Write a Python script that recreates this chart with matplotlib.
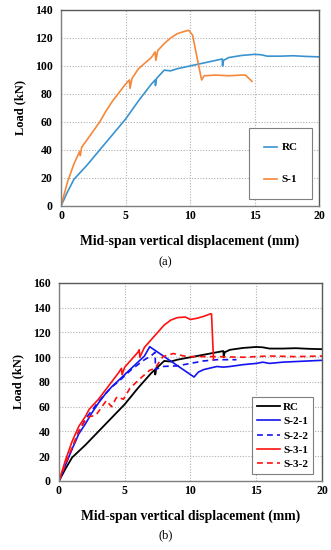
import matplotlib
matplotlib.use("Agg")
import matplotlib.pyplot as plt

plt.rcParams["font.family"] = ["Liberation Serif", "DejaVu Serif"]
plt.rcParams["font.weight"] = "bold"

# (a) RC vs S-1
rc_x = [0, 0.5, 1.0, 1.5, 2.0, 3.0, 4.0, 5.0, 6.0, 7.0, 7.3, 7.32, 7.4, 8.0, 8.5, 9.0,
        10.0, 11.0, 12.0, 12.5, 12.52, 12.6, 13.0, 14.0, 15.0, 15.5, 16.0, 17.0, 18.0, 19.0, 20.0]
rc_y = [0, 10, 19, 24, 29, 40, 51, 62, 75, 87, 90, 86, 91, 97, 96.5, 98,
        100, 102, 104, 105, 100, 104, 106, 107.5, 108.3, 108, 107, 107, 107.3, 106.8, 106.5]

s1_x = [0, 0.5, 1.0, 1.45, 1.5, 1.6, 2.0, 3.0, 3.5, 4.0, 5.0, 5.3, 5.35, 5.5, 6.0, 7.0, 7.3,
        7.35, 7.5, 8.0, 8.5, 9.0, 9.5, 9.9, 10.2, 10.5, 10.9, 11.1, 12.0, 13.0, 14.0, 14.3, 14.8]
s1_y = [0, 17, 30, 39, 36, 42, 47, 60, 68, 75, 87, 90, 84, 91, 98, 106, 110,
        104, 111, 116, 120, 123, 124.5, 125.5, 122, 108, 90, 93, 93.5, 93, 93.5, 93.5, 89]

# (b) RC, S-2-1, S-2-2, S-3-1, S-3-2
s21_x = [0, 0.5, 1.0, 1.3, 1.5, 2.0, 2.5, 3.0, 3.5, 4.0, 4.5, 5.0, 5.5, 6.0, 6.5, 6.9,
         10.27, 10.6, 11.0, 12.0, 12.5, 13.0, 14.0, 15.0, 15.5, 16.0, 17.0, 18.0, 19.0, 20.0]
s21_y = [0, 13, 26, 33, 38, 46, 55, 63, 70, 76, 81, 86, 91, 96, 101, 108.5,
         84, 88, 90, 92.5, 92, 92.5, 94, 95, 96, 95, 96, 96.5, 97, 97.5]

s22_x = [0, 0.5, 1.0, 1.5, 2.0, 2.5, 3.0, 3.5, 4.0, 4.5, 5.0, 5.5, 6.0, 6.5, 7.0, 7.3,
         7.35, 7.8, 9.0, 10.0, 11.0, 12.0, 13.5]
s22_y = [0, 14, 26, 40, 50, 57, 64, 70, 76, 80, 85, 90, 94, 98, 101, 104,
         90, 92.5, 93, 95, 97, 98, 98]

s31_x = [0, 0.5, 1.0, 1.5, 2.0, 2.3, 3.0, 3.5, 4.0, 4.5, 4.75, 4.8, 5.0, 5.5, 6.0, 6.1,
         6.15, 6.5, 7.0, 7.5, 8.0, 8.5, 9.0, 9.6, 10.0, 10.5, 11.0, 11.5, 11.6, 11.75]
s31_y = [0, 17, 32, 44, 52, 58, 66, 73, 80, 87, 91, 86, 92, 98, 104, 106,
         100, 108, 114, 120, 126, 130, 132, 132.5, 130.5, 131.5, 133, 135, 135, 98]

s32_x = [0, 0.5, 1.0, 1.5, 2.0, 2.3, 2.8, 3.6, 4.0, 4.4, 4.9, 5.4, 6.2, 6.9, 7.3, 7.9,
         8.7, 9.5, 10.0, 12.0, 14.0, 16.0, 18.0, 20.0]
s32_y = [0, 14, 27, 40, 49, 52, 53, 65, 60, 68, 66, 75, 83, 89.5, 91, 100.5,
         103, 101, 100.5, 100.5, 100, 101, 100.5, 101]


def style(ax, ymax):
    ax.set_xlim(0, 20)
    ax.set_ylim(0, ymax)
    ax.set_xticks([0, 5, 10, 15, 20])
    ax.set_yticks(range(0, ymax + 1, 20))
    ax.grid(True, color="#b0b0b0", linestyle=(0, (1, 1.5)), linewidth=0.8)
    ax.tick_params(length=0, labelsize=8.5)
    ax.tick_params(axis="x", pad=3)
    ax.tick_params(axis="y", pad=6)
    for lab in ax.get_xticklabels() + ax.get_yticklabels():
        lab.set_fontweight("bold")
    for sp in ax.spines.values():
        sp.set_color("#7f7f7f")
        sp.set_linewidth(1.0)
    ax.spines["top"].set_color("#595959")
    ax.spines["right"].set_color("#595959")
    ax.set_xlabel("Mid-span vertical displacement (mm)", fontsize=9.8, fontweight="bold", labelpad=9)
    ax.set_ylabel("Load (kN)", fontsize=9, fontweight="bold", labelpad=6)


fig = plt.figure(figsize=(3.31, 5.5), dpi=100)

ax1 = fig.add_axes([0.1843, 0.6255, 0.7795, 0.3564])
ax1.plot(rc_x, rc_y, color="#3a93d0", lw=1.2, label="RC")
ax1.plot(s1_x, s1_y, color="#f5883a", lw=1.2, label="S-1")
style(ax1, 140)
leg1 = ax1.legend(loc="lower right", bbox_to_anchor=(0.973, 0.036), handlelength=1.2,
                  handletextpad=0.4, labelspacing=2.0, borderpad=1.3, fancybox=False,
                  edgecolor="#7f7f7f", framealpha=1, borderaxespad=0,
                  prop={"weight": "bold", "size": 8})
leg1.get_frame().set_linewidth(0.8)
fig.text(0.5, 1 - 262 / 550, "(a)", ha="center", va="center", fontsize=9, fontweight="normal")

ax2 = fig.add_axes([0.1782, 0.1255, 0.7946, 0.36])
ax2.plot(rc_x, rc_y, color="black", lw=1.3, label="RC")
ax2.plot(s21_x, s21_y, color="#1414f0", lw=1.2, label="S-2-1")
ax2.plot(s22_x, s22_y, color="#1414f0", lw=1.2, ls=(0, (3.5, 2.5)), label="S-2-2")
ax2.plot(s31_x, s31_y, color="#ff1010", lw=1.2, label="S-3-1")
ax2.plot(s32_x, s32_y, color="#ff1010", lw=1.2, ls=(0, (3.5, 2.5)), label="S-3-2")
style(ax2, 160)
leg2 = ax2.legend(loc="lower right", bbox_to_anchor=(0.966, 0.035), handlelength=2.0,
                  handletextpad=0.3, labelspacing=0.4, borderpad=0.45, fancybox=False,
                  edgecolor="#7f7f7f", framealpha=1, borderaxespad=0,
                  prop={"weight": "bold", "size": 8})
leg2.get_frame().set_linewidth(0.8)
fig.text(0.5, 1 - 535 / 550, "(b)", ha="center", va="center", fontsize=9, fontweight="normal")

fig.savefig("out.png", dpi=100)
